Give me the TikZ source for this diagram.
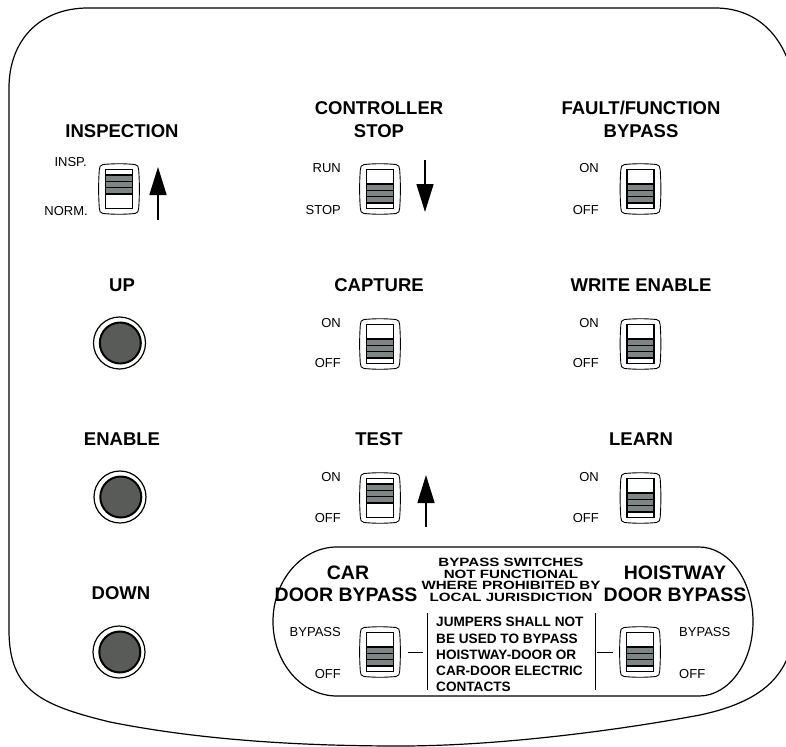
\documentclass[tikz,border=0pt]{standalone}
\usepackage{fontspec}
\setmainfont{Liberation Sans}
\usetikzlibrary{arrows.meta}
\definecolor{bargray}{RGB}{125,133,133}
\definecolor{btngray}{RGB}{88,91,88}
\tikzset{
  head/.style={font=\fontsize{18.5}{21}\selectfont\bfseries, text depth=0pt, inner sep=0pt},
  boxhead/.style={font=\fontsize{19.5}{22}\selectfont\bfseries, text depth=0pt, inner sep=0pt},
  small/.style={font=\fontsize{13}{15}\selectfont, text depth=0pt, inner sep=0pt},
  warn/.style={font=\fontsize{12}{11.5}\selectfont\bfseries, align=center, inner sep=0pt},
  jump/.style={font=\fontsize{13.6}{16.3}\selectfont\bfseries, align=left, inner sep=0pt},
  bigarrow/.style={line width=1.6, -{Triangle[width=17pt,length=28pt]}},
  thinline/.style={line width=1},
  swbody/.pic={
    \draw[line width=0.9, fill=white] (-16,-24.5) .. controls (-5,-25.5) and (5,-25.5) .. (16,-24.5)
      .. controls (19,-24.2) and (19.5,-22) .. (19.7,-19) .. controls (20.6,-6) and (20.6,6) .. (19.7,19)
      .. controls (19.5,22) and (19,24.2) .. (16,24.5) .. controls (5,25.5) and (-5,25.5) .. (-16,24.5)
      .. controls (-19,24.2) and (-19.5,22) .. (-19.7,19) .. controls (-20.6,6) and (-20.6,-6) .. (-19.7,-19)
      .. controls (-19.5,-22) and (-19,-24.2) .. (-16,-24.5) -- cycle;
  },
  swdown/.pic={
    \pic {swbody};
    \fill[bargray] (-13.5,-5) rectangle (13.5,14);
    \foreach \yy in {-5,1.3,7.7,14} \draw[line width=1.4] (-13.5,\yy) -- (13.5,\yy);
    \draw[line width=1.8] (-13.5,-19.5) rectangle (13.5,19.5);
  },
  swup/.pic={
    \pic {swbody};
    \fill[bargray] (-13.5,-14) rectangle (13.5,5);
    \foreach \yy in {-14,-7.7,-1.3,5} \draw[line width=1.4] (-13.5,\yy) -- (13.5,\yy);
    \draw[line width=1.8] (-13.5,-19.5) rectangle (13.5,19.5);
  },
  button/.pic={
    \draw[line width=1.2, fill=white] (0,0) circle (26);
    \draw[line width=2, fill=btngray] (0.8,0) circle (20.5);
  }
}
\begin{document}
\begin{tikzpicture}[x=1pt,y=-1pt]
\useasboundingbox (0,0) rectangle (786,746);
\clip (0,0) rectangle (786,746);
% panel outline
\draw[line width=1.2] (9,88) .. controls (9,40) and (40,8) .. (88,8) -- (715,8)
  .. controls (760,8) and (790,40) .. (796,95) -- (796,620)
  .. controls (792,670) and (770,700) .. (700,715)
  .. controls (620,730) and (500,746) .. (400,746)
  .. controls (300,746) and (200,740) .. (110,722)
  .. controls (40,705) and (9,690) .. (9,630) -- cycle;

% column 1
\node[head] (inspT) at (122,131) {INSPECTION};
\pic at (119,189) {swup};
\node[small, anchor=east] (inspL) at (87,162) {INSP.};
\node[small, anchor=east] (normL) at (88,211) {NORM.};
\coordinate (a1t) at (158,220); \coordinate (a1h) at (158,167);
\draw[bigarrow] (a1t) -- (a1h);

\node[head] (upT) at (122,285) {UP};
\pic at (119.5,343) {button};
\node[head] (enT) at (122,439) {ENABLE};
\pic at (120,497) {button};
\node[head] (dnT) at (121,593) {DOWN};
\pic at (119,652) {button};

% column 2
\node[head] (ctlT1) at (379,108) {CONTROLLER};
\node[head] (ctlT2) at (379,131) {STOP};
\pic at (380,189) {swdown};
\node[small, anchor=east] (runL) at (341,168) {RUN};
\node[small, anchor=east] (stopL) at (341,210) {STOP};
\coordinate (a2t) at (425,160); \coordinate (a2h) at (425,212);
\draw[bigarrow] (a2t) -- (a2h);

\node[head] (capT) at (379,285) {CAPTURE};
\pic at (380,344) {swdown};
\node[small, anchor=east] (capOn) at (341,323) {ON};
\node[small, anchor=east] (capOff) at (341,363) {OFF};

\node[head] (testT) at (379,439) {TEST};
\pic at (380,498) {swup};
\node[small, anchor=east] (testOn) at (341,477) {ON};
\node[small, anchor=east] (testOff) at (341,518) {OFF};
\coordinate (a3t) at (426,527); \coordinate (a3h) at (426,475);
\draw[bigarrow] (a3t) -- (a3h);

% column 3
\node[head] (ffT1) at (641,108) {FAULT/FUNCTION};
\node[head] (ffT2) at (641,131) {BYPASS};
\pic at (640.5,189) {swdown};
\node[small, anchor=east] (ffOn) at (599,168) {ON};
\node[small, anchor=east] (ffOff) at (599,210) {OFF};

\node[head] (weT) at (641,285) {WRITE ENABLE};
\pic at (640.5,344) {swdown};
\node[small, anchor=east] (weOn) at (599,323) {ON};
\node[small, anchor=east] (weOff) at (599,363) {OFF};

\node[head] (lrT) at (641,439) {LEARN};
\pic at (640.5,498) {swdown};
\node[small, anchor=east] (lrOn) at (599,477) {ON};
\node[small, anchor=east] (lrOff) at (599,518) {OFF};

% bypass box
\draw[line width=1.2] (337,547) -- (699,547)
  .. controls (728.8,547) and (753,580.4) .. (753,621.5)
  .. controls (753,662.6) and (728.8,696) .. (699,696) -- (337,696)
  .. controls (301.7,696) and (273,662.6) .. (273,621.5)
  .. controls (273,580.4) and (301.7,547) .. (337,547) -- cycle;

\node[boxhead] (carT1) at (348,573) {CAR};
\node[boxhead] (carT2) at (346,595) {DOOR BYPASS};
\node[boxhead] (hwT1) at (675,573) {HOISTWAY};
\node[boxhead] (hwT2) at (675,595) {DOOR BYPASS};

\node[warn, anchor=north] (warnT) at (511,558) {\scalebox{1.26}[1]{BYPASS SWITCHES}\\\scalebox{1.26}[1]{NOT FUNCTIONAL}\\\scalebox{1.26}[1]{WHERE PROHIBITED BY}\\\scalebox{1.26}[1]{LOCAL JURISDICTION}};

\node[jump, anchor=north west] (jumpT) at (436,617) {JUMPERS SHALL NOT\\BE USED TO BYPASS\\HOISTWAY-DOOR OR\\CAR-DOOR ELECTRIC\\CONTACTS};

\pic at (380,652) {swdown};
\node[small, anchor=east] (cbyL) at (341,632) {BYPASS};
\node[small, anchor=east] (coffL) at (341,674) {OFF};
\pic at (640,652) {swdown};
\node[small, anchor=west] (hbyL) at (679,632) {BYPASS};
\node[small, anchor=west] (hoffL) at (679,674) {OFF};

\coordinate (d1a) at (408,652); \coordinate (d1b) at (423,652);
\draw[thinline] (d1a) -- (d1b);
\coordinate (v1a) at (427,613); \coordinate (v1b) at (427,690);
\draw[thinline] (v1a) -- (v1b);
\coordinate (v2a) at (595,613); \coordinate (v2b) at (595,690);
\draw[thinline] (v2a) -- (v2b);
\coordinate (d2a) at (597,652); \coordinate (d2b) at (613,652);
\draw[thinline] (d2a) -- (d2b);
\end{tikzpicture}
\end{document}
